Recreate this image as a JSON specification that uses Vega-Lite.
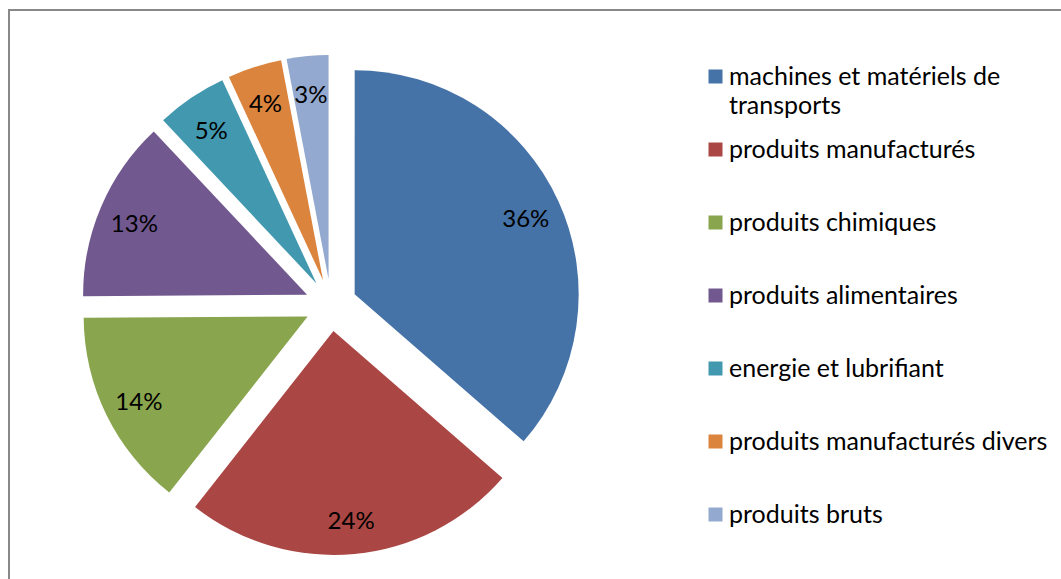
{
  "$schema": "https://vega.github.io/schema/vega-lite/v6.json",
  "width": 1056,
  "height": 573,
  "padding": {"left": 9, "top": 10, "right": -4, "bottom": -4},
  "autosize": {"type": "none"},
  "background": "white",
  "config": {"view": {"stroke": "#888888", "strokeWidth": 2}, "font": "Lato"},
  "data": {
    "values": [
      {"category": "machines et matériels de transports", "label": ["machines et matériels de", "transports"], "share": 0.364, "rank": 1},
      {"category": "produits manufacturés", "label": "produits manufacturés", "share": 0.242, "rank": 2},
      {"category": "produits chimiques", "label": "produits chimiques", "share": 0.143, "rank": 3},
      {"category": "produits alimentaires", "label": "produits alimentaires", "share": 0.131, "rank": 4},
      {"category": "energie et lubrifiant", "label": "energie et lubrifiant", "share": 0.051, "rank": 5},
      {"category": "produits manufacturés divers", "label": "produits manufacturés divers", "share": 0.039, "rank": 6},
      {"category": "produits bruts", "label": "produits bruts", "share": 0.030, "rank": 7}
    ]
  },
  "layer": [
    {
      "mark": {
        "type": "arc",
        "radius": 224,
        "x": {"expr": "322 + 26*sin((scale('theta', datum.share_start) + scale('theta', datum.share_end))/2)"},
        "y": {"expr": "295 - 26*cos((scale('theta', datum.share_start) + scale('theta', datum.share_end))/2)"}
      },
      "encoding": {
        "theta": {"field": "share", "type": "quantitative", "stack": true},
        "order": {"field": "rank", "type": "quantitative"},
        "color": {
          "field": "category",
          "type": "nominal",
          "scale": {
            "domain": ["machines et matériels de transports", "produits manufacturés", "produits chimiques", "produits alimentaires", "energie et lubrifiant", "produits manufacturés divers", "produits bruts"],
            "range": ["#4572A7", "#AA4643", "#89A54E", "#71588F", "#4198AF", "#DB843D", "#93A9CF"]
          },
          "legend": null
        }
      }
    },
    {
      "mark": {
        "type": "text",
        "radius": 188,
        "fontSize": 24,
        "dy": 4,
        "color": "#000000",
        "align": "center",
        "baseline": "middle",
        "x": {"expr": "322 + 26*sin((scale('theta', datum.share_start) + scale('theta', datum.share_end))/2)"},
        "y": {"expr": "295 - 26*cos((scale('theta', datum.share_start) + scale('theta', datum.share_end))/2)"}
      },
      "encoding": {
        "theta": {"field": "share", "type": "quantitative", "stack": true},
        "order": {"field": "rank", "type": "quantitative"},
        "text": {"field": "share", "type": "quantitative", "format": ".0%"}
      }
    },
    {
      "mark": {"type": "square", "size": 196, "opacity": 1, "x": 706.5},
      "encoding": {
        "y": {
          "field": "category",
          "type": "nominal",
          "sort": ["machines et matériels de transports", "produits manufacturés", "produits chimiques", "produits alimentaires", "energie et lubrifiant", "produits manufacturés divers", "produits bruts"],
          "scale": {"type": "point", "range": [66.5, 504.5], "padding": 0},
          "axis": null
        },
        "color": {"field": "category", "type": "nominal"}
      }
    },
    {
      "mark": {"type": "text", "x": 720, "align": "left", "baseline": "middle", "fontSize": 25, "lineHeight": 29, "color": "#000000"},
      "encoding": {
        "y": {
          "field": "category",
          "type": "nominal",
          "sort": ["machines et matériels de transports", "produits manufacturés", "produits chimiques", "produits alimentaires", "energie et lubrifiant", "produits manufacturés divers", "produits bruts"],
          "axis": null
        },
        "text": {"field": "label", "type": "nominal"}
      }
    }
  ]
}
